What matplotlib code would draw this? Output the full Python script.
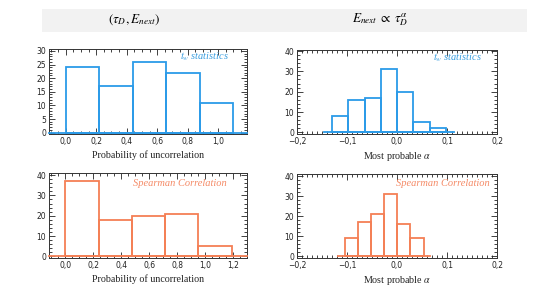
import numpy as np
import matplotlib.pyplot as plt
from matplotlib.patches import Rectangle
from matplotlib.ticker import MultipleLocator, FuncFormatter

# top-left: probability of uncorrelation, t_w statistics
tw_prob_edges = [0.0, 0.22, 0.44, 0.66, 0.88, 1.10]
tw_prob_counts = [24, 17, 26, 22, 11]

# top-right: most probable alpha, t_w statistics
tw_alpha_edges = [-0.13, -0.0975, -0.065, -0.0325, 0.0, 0.0325, 0.065, 0.0975]
tw_alpha_counts = [8, 16, 17, 31, 20, 5, 2]

# bottom-left: probability of uncorrelation, Spearman
sp_prob_edges = [0.0, 0.238, 0.476, 0.714, 0.952, 1.19]
sp_prob_counts = [37, 18, 20, 21, 5]

# bottom-right: most probable alpha, Spearman
sp_alpha_edges = [-0.105, -0.079, -0.053, -0.0265, 0.0, 0.0265, 0.053]
sp_alpha_counts = [9, 17, 21, 31, 16, 9]

blue = '#2b9be8'
orange = '#f47f55'
blue_txt = '#3a9ee0'
orange_txt = '#f58a66'

plt.rcParams['mathtext.fontset'] = 'stix'

fig = plt.figure(figsize=(5.43, 3.05), dpi=100)

# header band
fig.patches.append(Rectangle((42 / 543, 1 - 32 / 305), 485 / 543, 23 / 305,
                             transform=fig.transFigure, facecolor='#f2f2f2',
                             edgecolor='none', zorder=0))
fig.text(134 / 543, 1 - 20 / 305, r'$(\tau_D, E_{next})$', ha='center', va='center', fontsize=9.5)
fig.text(380 / 543, 1 - 20 / 305, r'$E_{next}\;\propto\;\tau_D^{\alpha}$', ha='center', va='center', fontsize=9.5)


def comma(x, pos):
    s = '%.1f' % x
    if abs(x) < 1e-9:
        s = '0.0'
    return s.replace('.', ',').replace('-', '\u2212')


def draw_hist(rect, edges, counts, color, label, txt, txt_color, txt_pos, xlim, ylim,
              xmajor, xminor, ymajor, yminor, full_base):
    ax = fig.add_axes(rect)
    edges = np.array(edges)
    w = np.diff(edges)
    ax.bar(edges[:-1], counts, width=w, align='edge', fill=False,
           edgecolor=color, linewidth=1.3, zorder=3)
    if full_base:
        ax.plot([xlim[0], xlim[1]], [0, 0], color=color, lw=1.3, zorder=3, clip_on=False)
    else:
        ax.plot([edges[0] - w[0] / 2, edges[-1] + w[-1] / 2], [0, 0],
                color=color, lw=1.3, zorder=3)
    ax.set_xlim(xlim)
    ax.set_ylim(ylim)
    ax.xaxis.set_major_locator(MultipleLocator(xmajor))
    ax.xaxis.set_minor_locator(MultipleLocator(xminor))
    ax.yaxis.set_major_locator(MultipleLocator(ymajor))
    ax.yaxis.set_minor_locator(MultipleLocator(yminor))
    ax.xaxis.set_major_formatter(FuncFormatter(comma))
    ax.tick_params(which='both', direction='in', top=True, right=True,
                   labelsize=5.5, colors='#222222', width=0.6, pad=2)
    ax.tick_params(which='major', length=4)
    ax.tick_params(which='minor', length=2)
    for s in ax.spines.values():
        s.set_linewidth(0.7)
        s.set_color('#333333')
    ax.set_xlabel(label, fontsize=7.2, family='Liberation Serif', labelpad=3, color='#222222')
    ax.text(txt_pos[0], txt_pos[1], txt, transform=ax.transAxes, ha='right', va='center',
            fontsize=7.5, style='italic', family='Liberation Serif', color=txt_color)
    return ax


draw_hist([49 / 543, 1 - 134 / 305, 198 / 543, 85 / 305], tw_prob_edges, tw_prob_counts,
          blue, 'Probability of uncorrelation', r'$t_w$ statistics', blue_txt, (0.91, 0.91),
          (-0.11, 1.19), (-0.5, 30.7), 0.2, 0.05, 5, 1, True)
draw_hist([297 / 543, 1 - 134 / 305, 200 / 543, 84 / 305], tw_alpha_edges, tw_alpha_counts,
          blue, r'Most probable $\alpha$', r'$t_w$ statistics', blue_txt, (0.925, 0.91),
          (-0.2, 0.2), (-0.8, 40.5), 0.1, 0.01, 10, 2, False)
draw_hist([49 / 543, 1 - 258 / 305, 198 / 543, 85 / 305], sp_prob_edges, sp_prob_counts,
          orange, 'Probability of uncorrelation', 'Spearman Correlation', orange_txt, (0.9, 0.88),
          (-0.117, 1.30), (-0.8, 41), 0.2, 0.05, 10, 2, True)
draw_hist([297 / 543, 1 - 258 / 305, 200 / 543, 84 / 305], sp_alpha_edges, sp_alpha_counts,
          orange, r'Most probable $\alpha$', 'Spearman Correlation', orange_txt, (0.965, 0.89),
          (-0.2, 0.2), (-0.8, 41), 0.1, 0.01, 10, 2, False)

fig.savefig('out.png', dpi=100)
